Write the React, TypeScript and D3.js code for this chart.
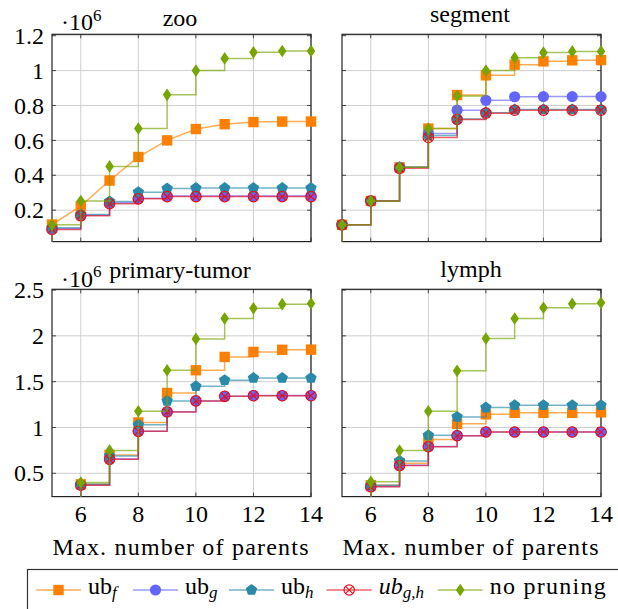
import React from 'react';
import * as d3 from 'd3';

// Max. number of parents (x = 4 lies left of the shown range, as in the source plot)
const parents = [4, 5, 6, 7, 8, 9, 10, 11, 12, 13, 14];

// all values in units of 10^6
const zooUbF = [0.03, 0.118, 0.223, 0.37, 0.505, 0.6, 0.665, 0.693, 0.705, 0.708, 0.708];
const zooUbG = [0.01, 0.094, 0.171, 0.242, 0.268, 0.281, 0.281, 0.281, 0.281, 0.281, 0.281];
const zooUbH = [0.01, 0.1, 0.176, 0.25, 0.303, 0.324, 0.327, 0.327, 0.327, 0.327, 0.327];
const zooUbGH = [0.01, 0.09, 0.168, 0.237, 0.265, 0.278, 0.278, 0.278, 0.278, 0.278, 0.278];
const zooNone = [0.01, 0.116, 0.253, 0.451, 0.668, 0.861, 1.0, 1.07, 1.105, 1.112, 1.112];

const segUbF = [0.01, 0.116, 0.253, 0.446, 0.668, 0.86, 0.973, 1.034, 1.053, 1.059, 1.06];
const segUbG = [0.01, 0.116, 0.253, 0.446, 0.64, 0.773, 0.83, 0.85, 0.851, 0.851, 0.851];
const segUbH = [0.01, 0.116, 0.253, 0.446, 0.628, 0.722, 0.758, 0.777, 0.777, 0.777, 0.777];
const segUbGH = [0.01, 0.116, 0.253, 0.44, 0.617, 0.72, 0.756, 0.773, 0.773, 0.773, 0.773];
const segNone = [0.01, 0.116, 0.253, 0.446, 0.668, 0.855, 1.0, 1.074, 1.103, 1.11, 1.11];

const tumorUbF = [0.05, 0.15, 0.38, 0.7, 1.055, 1.377, 1.625, 1.77, 1.825, 1.848, 1.85];
const tumorUbG = [0.05, 0.14, 0.372, 0.656, 0.96, 1.172, 1.29, 1.34, 1.348, 1.348, 1.348];
const tumorUbH = [0.05, 0.15, 0.38, 0.69, 1.03, 1.29, 1.45, 1.516, 1.54, 1.54, 1.54];
const tumorUbGH = [0.05, 0.14, 0.37, 0.653, 0.958, 1.17, 1.29, 1.34, 1.347, 1.347, 1.347];
const tumorNone = [0.05, 0.15, 0.4, 0.75, 1.177, 1.625, 1.967, 2.19, 2.3, 2.346, 2.353];

const lymphUbF = [0.05, 0.15, 0.37, 0.61, 0.87, 1.04, 1.144, 1.16, 1.16, 1.16, 1.165];
const lymphUbG = [0.05, 0.14, 0.355, 0.587, 0.792, 0.911, 0.951, 0.951, 0.951, 0.951, 0.951];
const lymphUbH = [0.05, 0.15, 0.37, 0.635, 0.915, 1.115, 1.217, 1.243, 1.243, 1.243, 1.243];
const lymphUbGH = [0.05, 0.14, 0.353, 0.585, 0.79, 0.91, 0.951, 0.951, 0.951, 0.951, 0.951];
const lymphNone = [0.05, 0.15, 0.408, 0.748, 1.177, 1.618, 1.97, 2.19, 2.306, 2.35, 2.36];

const seriesColors = ['#ff7f00', '#6464ff', '#2a89a8', '#e8101c', '#76a400'];
const seriesMarkers = ['square', 'circle', 'pentagon', 'otimes', 'diamond'];

const xTicks = [6, 8, 10, 12, 14];
const yTicksTop = [0.2, 0.4, 0.6, 0.8, 1, 1.2];
const yTicksBottom = [0.5, 1, 1.5, 2, 2.5];

const W = 618;
const H = 609;
const FAMILY = '"Liberation Serif", Tinos, "Times New Roman", FreeSerif, serif';
const TXT = { fontFamily: FAMILY, fontSize: '24px' };
const SUB = { fontFamily: FAMILY, fontSize: '17px', fontStyle: 'italic' };

const panels = [
  { title: 'zoo', col: 0, row: 0, series: [zooUbF, zooUbG, zooUbH, zooUbGH, zooNone], linearF: true, tx: 180, ty: 26 },
  { title: 'segment', col: 1, row: 0, series: [segUbF, segUbG, segUbH, segUbGH, segNone], linearF: false, tx: 470, ty: 21.7 },
  { title: 'primary-tumor', col: 0, row: 1, series: [tumorUbF, tumorUbG, tumorUbH, tumorUbGH, tumorNone], linearF: false, tx: 180, ty: 277.5 },
  { title: 'lymph', col: 1, row: 1, series: [lymphUbF, lymphUbG, lymphUbH, lymphUbGH, lymphNone], linearF: false, tx: 471, ty: 276.5 },
];

const colLeft = [52, 342];
const rowTop = [34.3, 289.3];
const panelW = 259;
const panelH = 207.3;
const yDomains = [[0.02, 1.208], [0.246, 2.508]];
const yTickSets = [yTicksTop, yTicksBottom];

const xScale = d3.scaleLinear().domain([5, 14]).range([0, panelW]);

const Marker = ({ kind, color, x, y }) => {
  if (kind === 'square') {
    return <rect x={x - 5.2} y={y - 5.2} width={10.4} height={10.4} fill={color} />;
  }
  if (kind === 'circle') {
    return <circle cx={x} cy={y} r={5.6} fill={color} />;
  }
  if (kind === 'pentagon') {
    const pts = d3.range(5).map(i => {
      const a = -Math.PI / 2 + (i * 2 * Math.PI) / 5;
      return [x + 6 * Math.cos(a), y + 6 * Math.sin(a)].join(',');
    });
    return <polygon points={pts.join(' ')} fill={color} />;
  }
  if (kind === 'otimes') {
    const r = 5.2;
    const d = r * Math.SQRT1_2;
    return (
      <g stroke={color} strokeWidth={1.2} fill="none">
        <circle cx={x} cy={y} r={r} />
        <path d={`M${x - d},${y - d}L${x + d},${y + d}M${x - d},${y + d}L${x + d},${y - d}`} />
      </g>
    );
  }
  return <polygon points={`${x},${y - 6.3} ${x + 4.3},${y} ${x},${y + 6.3} ${x - 4.3},${y}`} fill={color} />;
};

const Panel = ({ p, pi }) => {
  const yScale = d3.scaleLinear().domain(yDomains[p.row]).range([panelH, 0]);
  const yTicks = yTickSets[p.row];
  const yd = yDomains[p.row];
  const clipId = `clip-${pi}`;
  const tk = 4;

  return (
    <g transform={`translate(${colLeft[p.col]},${rowTop[p.row]})`}>
      <clipPath id={clipId}>
        <rect width={panelW} height={panelH} />
      </clipPath>

      {/* grid */}
      {xTicks.map(t => (
        <line key={`gx${t}`} x1={xScale(t)} x2={xScale(t)} y1={0} y2={panelH} stroke="#cfcfcf" />
      ))}
      {yTicks.map(t => (
        <line key={`gy${t}`} x1={0} x2={panelW} y1={yScale(t)} y2={yScale(t)} stroke="#cfcfcf" />
      ))}

      {/* inner ticks on all sides */}
      {xTicks.map(t => (
        <g key={`tx${t}`} stroke="#444">
          <line x1={xScale(t)} x2={xScale(t)} y1={0} y2={tk} />
          <line x1={xScale(t)} x2={xScale(t)} y1={panelH} y2={panelH - tk} />
        </g>
      ))}
      {yTicks.map(t => (
        <g key={`ty${t}`} stroke="#444">
          <line x1={0} x2={tk} y1={yScale(t)} y2={yScale(t)} />
          <line x1={panelW} x2={panelW - tk} y1={yScale(t)} y2={yScale(t)} />
        </g>
      ))}

      <rect width={panelW} height={panelH} fill="none" stroke="#222" strokeWidth={1.2} />

      {p.col === 0 &&
        yTicks.map(t => (
          <text key={`yl${t}`} x={-8} y={yScale(t)} dy="0.34em" textAnchor="end" style={TXT}>
            {String(t)}
          </text>
        ))}

      {p.row === 1 && (
        <>
          {xTicks.map(t => (
            <text key={`xl${t}`} x={xScale(t)} y={521.7 - rowTop[1]} textAnchor="middle" style={TXT}>
              {String(t)}
            </text>
          ))}
          <text x={128.5} y={555 - rowTop[1]} textAnchor="middle" textLength={256} lengthAdjust="spacing" style={TXT}>
            Max. number of parents
          </text>
        </>
      )}

      {p.series.map((vals, si) => {
        const pts = parents.map((x, i) => [x, vals[i]]);
        const curve = si === 0 && p.linearF ? d3.curveLinear : d3.curveStepAfter;
        const line = d3.line().x(d => xScale(d[0])).y(d => yScale(d[1])).curve(curve);
        return (
          <g key={`s${si}`}>
            <path
              d={line(pts)}
              clipPath={`url(#${clipId})`}
              fill="none"
              stroke={seriesColors[si]}
              strokeOpacity={0.65}
              strokeWidth={1.5}
            />
            {pts
              .filter(d => d[0] >= 5 && d[0] <= 14 && d[1] >= yd[0] && d[1] <= yd[1])
              .map(d => (
                <Marker key={d[0]} kind={seriesMarkers[si]} color={seriesColors[si]} x={xScale(d[0])} y={yScale(d[1])} />
              ))}
          </g>
        );
      })}
    </g>
  );
};

const legendX = [36, 133, 229, 326.7, 437.7];
const legendSubs = ['f', 'g', 'h'];

const App = () => {
  const ly = 590;
  return (
    <svg width={W} height={H} style={{ position: 'absolute', left: 0, top: 0, display: 'block' }}>
      <rect width={W} height={H} fill="#fff" />

      {panels.map((p, pi) => (
        <Panel key={p.title} p={p} pi={pi} />
      ))}

      {panels.map(p => (
        <text key={`t-${p.title}`} x={p.tx} y={p.ty} textAnchor="middle" style={TXT}>
          {p.title}
        </text>
      ))}

      {[30, 286.7].map(y => (
        <text key={`sc${y}`} x={61} y={y} style={TXT}>
          ·10
          <tspan style={{ fontSize: '17px' }} dy={-9.3}>6</tspan>
        </text>
      ))}

      {/* legend */}
      <rect x={27.5} y={569.5} width={620} height={60} fill="#fff" stroke="#333" strokeWidth={1.2} />
      {legendX.map((lx, si) => (
        <g key={`lg${si}`}>
          <line x1={lx} x2={lx + 45} y1={ly} y2={ly} stroke={seriesColors[si]} strokeOpacity={0.65} strokeWidth={1.5} />
          <Marker kind={seriesMarkers[si]} color={seriesColors[si]} x={lx + 22.5} y={ly} />
          {si < 3 && (
            <text x={lx + 52} y={594.4} style={TXT}>
              ub
              <tspan style={SUB} dy={3.5}>{legendSubs[si]}</tspan>
            </text>
          )}
          {si === 3 && (
            <text x={lx + 52} y={594.4} style={{ ...TXT, fontStyle: 'italic' }}>
              ub
              <tspan style={SUB} dy={3.5}>g,h</tspan>
            </text>
          )}
          {si === 4 && (
            <text x={lx + 52} y={594.4} textLength={116} lengthAdjust="spacing" style={TXT}>
              no pruning
            </text>
          )}
        </g>
      ))}
    </svg>
  );
};

export default App;
